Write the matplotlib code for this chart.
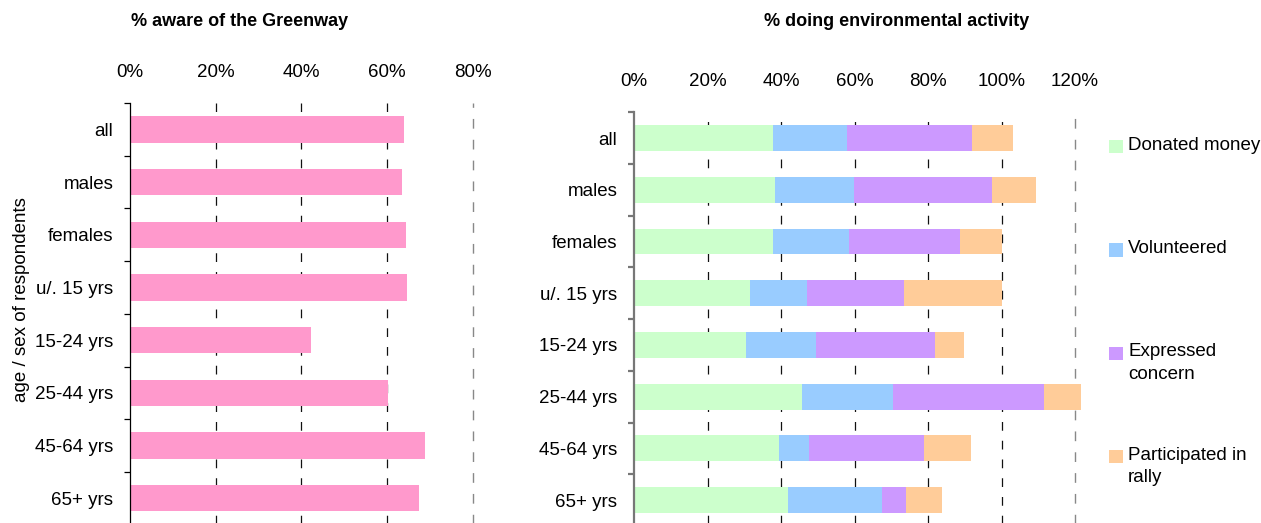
import numpy as np
import matplotlib
matplotlib.use("Agg")
import matplotlib.pyplot as plt
from matplotlib.patches import Rectangle

plt.rcParams['font.family'] = ['Liberation Sans', 'DejaVu Sans']

groups = ['all', 'males', 'females', 'u/. 15 yrs', '15-24 yrs', '25-44 yrs', '45-64 yrs', '65+ yrs']

# % aware of the Greenway
aware = [64.0, 63.5, 64.4, 64.7, 42.3, 60.3, 68.9, 67.5]

# % doing environmental activity (stacked)
activities = ['Donated money', 'Volunteered', 'Expressed\nconcern', 'Participated in\nrally']
donated = [37.8, 38.4, 37.8, 31.6, 30.5, 45.8, 39.5, 41.9]
volunteered = [20.2, 21.5, 20.7, 15.5, 19.0, 24.7, 8.2, 25.6]
concern = [34.0, 37.6, 30.2, 26.4, 32.5, 41.1, 31.3, 6.6]
rally = [11.2, 12.0, 11.3, 26.5, 7.8, 9.9, 12.6, 9.8]
act_colors = ['#CCFFCC', '#99CCFF', '#CC99FF', '#FFCC99']

W, H = 1261, 523
fig = plt.figure(figsize=(W / 100, H / 100), dpi=100)

FS = 13.5
y = np.arange(len(groups))


def style_axis(ax, xmax, step, spine_color, spine_lw):
    ax.set_xlim(0, xmax)
    ax.set_ylim(len(groups) - 0.5, -0.5)
    ax.xaxis.tick_top()
    ax.set_xticks(np.arange(0, xmax + 1, step))
    ax.set_xticklabels(['%d%%' % v for v in np.arange(0, xmax + 1, step)], fontsize=FS)
    ax.tick_params(axis='x', length=0, pad=16)
    ax.set_yticks(y)
    ax.set_yticklabels(groups, fontsize=FS)
    ax.set_yticks(np.arange(-0.5, len(groups), 1), minor=True)
    ax.tick_params(axis='y', which='major', length=0, pad=12)
    ax.tick_params(axis='y', which='minor', length=4, width=spine_lw, color=spine_color)
    for s in ['top', 'right', 'bottom']:
        ax.spines[s].set_visible(False)
    ax.spines['left'].set_color(spine_color)
    ax.spines['left'].set_linewidth(spine_lw)
    ax.set_axisbelow(True)
    ax.grid(axis='x', color='#111111', linewidth=0.9, linestyle=(0, (7, 8)))
    gl = ax.get_xgridlines()
    gl[0].set_visible(False)
    gl[-1].set_color('#888888')
    gl[-1].set_linewidth(1.0)
    gl[-1].set_clip_on(False)


# left chart
ax1 = fig.add_axes([130 / W, -1.6 / H, 342.7 / W, 421.6 / H])
ax1.barh(y, aware, height=0.5, color='#FF99CC')
style_axis(ax1, 80, 20, 'black', 0.9)
fig.text(240 / W, 1 - 22 / H, '% aware of the Greenway', fontsize=13,
         fontweight='bold', ha='center', va='center')
fig.text(22 / W, 1 - 300 / H, 'age / sex of respondents', fontsize=FS,
         rotation=90, ha='center', va='center')

# right chart
ax2 = fig.add_axes([634 / W, -2.9 / H, 441 / W, 413.6 / H])
left = np.zeros(len(groups))
for vals, c, lab in zip([donated, volunteered, concern, rally], act_colors, activities):
    ax2.barh(y, vals, left=left, height=0.5, color=c, label=lab, clip_on=False)
    left += np.array(vals)
style_axis(ax2, 120, 20, '#777777', 1.6)
fig.text(897 / W, 1 - 22 / H, '% doing environmental activity', fontsize=13,
         fontweight='bold', ha='center', va='center')

# legend, one entry every ~103 px, square aligned with first text line
for i, (lab, c) in enumerate(zip(activities, act_colors)):
    yc = 146.7 + i * 103.3
    fig.patches.append(Rectangle((1109 / W, 1 - (yc + 6.7) / H), 13.7 / W, 13.4 / H,
                                 transform=fig.transFigure, facecolor=c, edgecolor='none'))
    fig.text(1128 / W, 1 - (yc - 10) / H, lab, fontsize=FS, ha='left', va='top',
             linespacing=1.45)

fig.savefig('out.png', dpi=100)
